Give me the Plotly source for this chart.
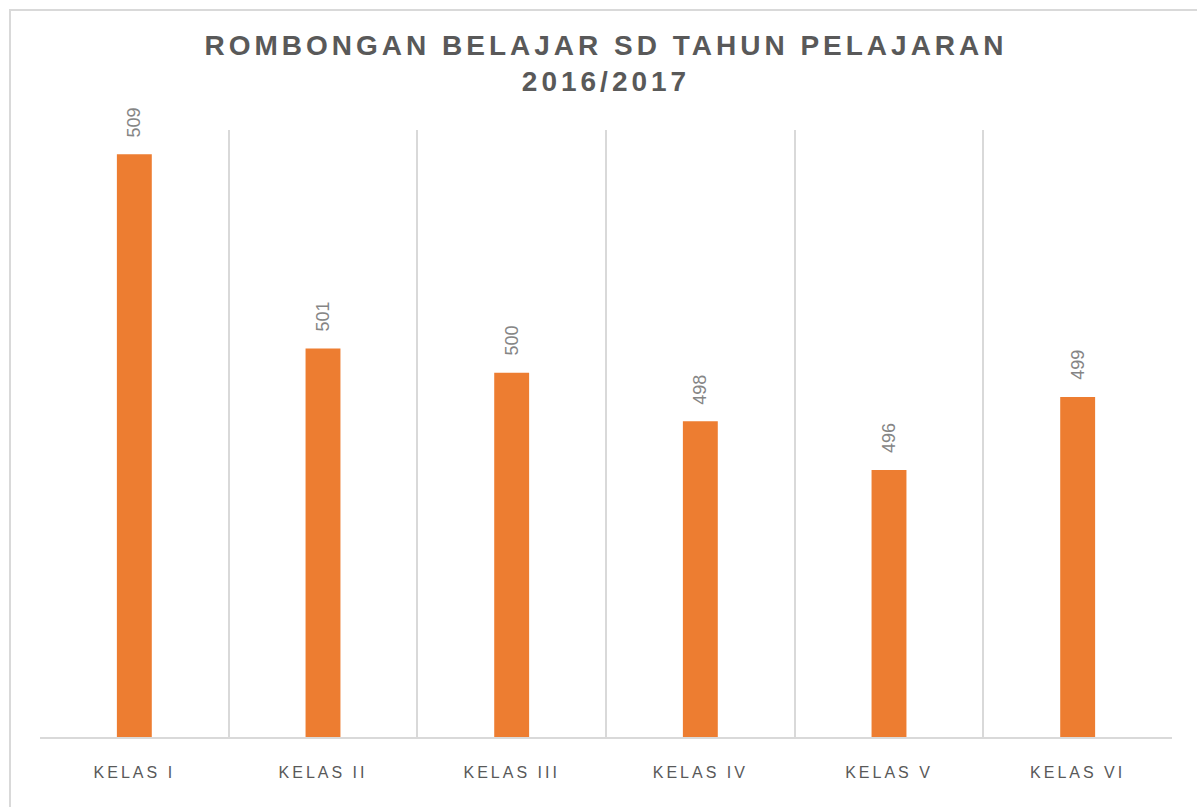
import plotly.graph_objects as go

# Jumlah rombongan belajar per kelas
kelas = ["KELAS I", "KELAS II", "KELAS III", "KELAS IV", "KELAS V", "KELAS VI"]
rombel = [509, 501, 500, 498, 496, 499]

title_lines = ["ROMBONGAN BELAJAR SD TAHUN PELAJARAN", "2016/2017"]

W, H = 1197, 807
ML, MR, MT, MB = 40, 25, 130, 70
PW, PH = W - ML - MR, H - MT - MB


def px_x(px):
    return (px - ML) / PW


def px_y(py):
    return (H - MB - py) / PH


def spaced(text, sp):
    return f'<span style="letter-spacing:{sp}px">{text}</span>'


fig = go.Figure()
fig.add_trace(go.Bar(
    x=kelas,
    y=rombel,
    marker=dict(color="#ED7D31", line=dict(width=0)),
    width=0.185,
    hoverinfo="x+y",
))

for k, v in zip(kelas, rombel):
    fig.add_annotation(
        x=k, y=v, xref="x", yref="y",
        text=str(v), textangle=-90, showarrow=False,
        yanchor="bottom", xanchor="center", yshift=15,
        font=dict(family="Liberation Sans, Arial, sans-serif", size=18, color="#858585"),
    )

# outer chart border
fig.add_shape(
    type="rect", xref="paper", yref="paper",
    x0=px_x(10), x1=px_x(1202), y0=px_y(812), y1=px_y(10),
    line=dict(color="#d9d9d9", width=2), fillcolor="rgba(0,0,0,0)", layer="below",
)

fig.update_layout(
    width=W, height=H,
    margin=dict(l=ML, r=MR, t=MT, b=MB),
    paper_bgcolor="white", plot_bgcolor="white",
    showlegend=False,
    title=dict(
        text="<br>".join(spaced(t, 4) for t in title_lines),
        x=0.5, xref="paper", xanchor="center",
        y=1 - 55 / H, yref="container", yanchor="top",
        font=dict(family="Liberation Sans, Arial, sans-serif", size=28, color="#595959", weight="bold"),
    ),
    xaxis=dict(
        tickmode="array",
        tickvals=kelas,
        ticktext=[spaced(k, 3) for k in kelas],
        tickson="boundaries",
        showgrid=True, gridcolor="#d9d9d9", gridwidth=1.5,
        showline=True, linecolor="#d9d9d9", linewidth=2,
        ticks="", ticklen=0,
        ticklabelstandoff=20,
        tickfont=dict(family="Liberation Sans, Arial, sans-serif", size=16, color="#595959"),
        mirror=False,
        zeroline=False,
        fixedrange=True,
    ),
    yaxis=dict(
        range=[485, 510],
        showgrid=False, showticklabels=False, zeroline=False,
        showline=False, ticks="",
        fixedrange=True,
    ),
    bargap=0.815,
)

fig.write_html("out.html")
